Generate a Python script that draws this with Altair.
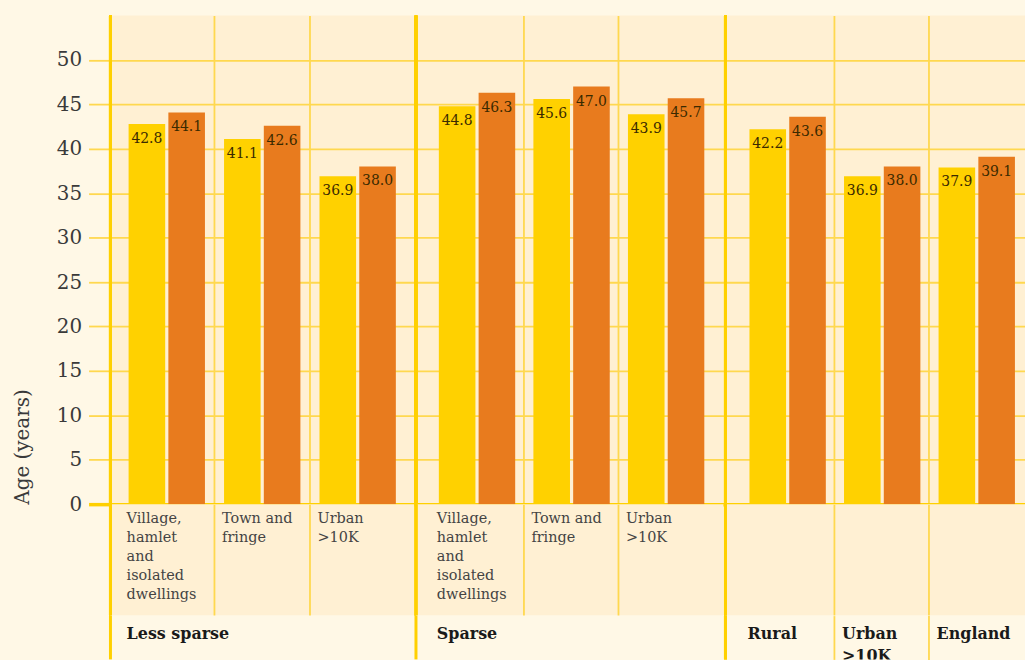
import altair as alt
import pandas as pd

# ---- data -------------------------------------------------------------
series = ["Earlier", "Later"]

less_sparse_cats = ["Village, hamlet and isolated dwellings", "Town and fringe", "Urban >10K"]
less_sparse_earlier = [42.8, 41.1, 36.9]
less_sparse_later = [44.1, 42.6, 38.0]

sparse_cats = ["Village, hamlet and isolated dwellings", "Town and fringe", "Urban >10K"]
sparse_earlier = [44.8, 45.6, 43.9]
sparse_later = [46.3, 47.0, 45.7]

overall_cats = ["Rural", "Urban >10K", "England"]
overall_earlier = [42.2, 36.9, 37.9]
overall_later = [43.6, 38.0, 39.1]

group_names = ["Less sparse", "Sparse"]

# how the labels wrap in the picture
wrapped = {
    "Village, hamlet and isolated dwellings": "Village,\nhamlet\nand\nisolated\ndwellings",
    "Town and fringe": "Town and\nfringe",
    "Urban >10K": "Urban\n>10K",
    "Rural": "Rural",
    "England": "England",
}

y_ticks = list(range(0, 51, 5))

# ---- style ------------------------------------------------------------
BG = "#FFF8E6"
PANEL = "#FFF0D3"
THIN = "#FFD84F"
THICK = "#FFD000"
YELLOW = "#FFD100"
ORANGE = "#E87B1E"
FONT = "DejaVu Serif"
TXT = "#3a3a3a"

H1, H2, H3 = 491, 112, 44


def long_df(cats, earlier, later):
    rows = []
    for c, a, b in zip(cats, earlier, later):
        rows.append({"cat": c, "series": series[0], "value": a})
        rows.append({"cat": c, "series": series[1], "value": b})
    return pd.DataFrame(rows)


def grid_axis():
    return alt.Axis(labels=False, ticks=False, domain=False, title=None, grid=True,
                    bandPosition=-0.125, gridColor=THIN, gridWidth=1.8,
                    gridOpacity={"condition": {"test": "datum.index === 0", "value": 0}, "value": 1})


def column(cats, earlier, later, width, po, align, first, group_label):
    xs = alt.Scale(type="band", domain=cats, paddingInner=0.2, paddingOuter=po, align=align)
    df = long_df(cats, earlier, later)

    if first:
        yaxis = alt.Axis(values=y_ticks, grid=True,
                         gridColor={"condition": {"test": "datum.value === 0", "value": THICK}, "value": THIN},
                         gridWidth={"condition": {"test": "datum.value === 0", "value": 3.5}, "value": 1.8},
                         tickColor={"condition": {"test": "datum.value === 0", "value": THICK}, "value": THIN},
                         tickWidth={"condition": {"test": "datum.value === 0", "value": 3.5}, "value": 1.8},
                         tickSize=22, domain=False, labelFont=FONT, labelFontSize=20,
                         labelColor=TXT, labelPadding=7,
                         title="Age (years)", titleFont=FONT, titleFontSize=20,
                         titleFontWeight="normal", titleColor=TXT, titleAnchor="start",
                         titlePadding=24)
    else:
        yaxis = alt.Axis(values=y_ticks, grid=True,
                         gridColor={"condition": {"test": "datum.value === 0", "value": THICK}, "value": THIN},
                         gridWidth={"condition": {"test": "datum.value === 0", "value": 3.5}, "value": 1.8},
                         labels=False, ticks=False, domain=False, title=None)

    x_enc = alt.X("cat:N", scale=xs, axis=grid_axis(), sort=cats)
    xo = alt.XOffset("series:N", scale=alt.Scale(domain=series, paddingInner=0.08, paddingOuter=0))
    y_enc = alt.Y("value:Q", scale=alt.Scale(domain=[0, 55], nice=False), axis=yaxis)

    base = alt.Chart(df)
    bars = base.mark_bar().encode(
        x=x_enc, xOffset=xo, y=y_enc,
        color=alt.Color("series:N", scale=alt.Scale(domain=series, range=[YELLOW, ORANGE]), legend=None),
    )
    vals = base.mark_text(baseline="top", dy=8, font=FONT, fontSize=14, color="#3a2a00").encode(
        x=x_enc, xOffset=xo, y=y_enc, text=alt.Text("value:Q", format=".1f"),
    )
    edge1 = base.mark_rule(color=THICK, strokeWidth=3).encode(x=alt.value(0))
    row1 = alt.layer(bars, vals, edge1).properties(
        width=width, height=H1, view=alt.ViewBackground(fill=PANEL, stroke=None))

    # sub-category labels
    lab_df = pd.DataFrame({"cat": cats,
                           "label": [wrapped[c] if group_label else "" for c in cats]})
    lab_base = alt.Chart(lab_df)
    sub = lab_base.mark_text(align="left", baseline="top", lineBreak="\n", dx=-2,
                             font=FONT, fontSize=14.5, lineHeight=19, color="#444444").encode(
        x=alt.X("cat:N", scale=xs, axis=grid_axis(), sort=cats, bandPosition=0),
        y=alt.value(8), text="label:N",
    )
    edge2 = lab_base.mark_rule(color=THICK, strokeWidth=3).encode(x=alt.value(0))
    row2 = alt.layer(sub, edge2).properties(
        width=width, height=H2, view=alt.ViewBackground(fill=PANEL, stroke=None))

    # group labels
    if group_label:
        g_df = pd.DataFrame({"cat": [cats[0]], "label": [group_label]})
        g_axis = alt.Axis(labels=False, ticks=False, domain=False, title=None, grid=False)
    else:
        g_df = pd.DataFrame({"cat": cats, "label": [wrapped[c] for c in cats]})
        g_axis = grid_axis()
    g_base = alt.Chart(g_df)
    gl = g_base.mark_text(align="left", baseline="middle", lineBreak="\n", dx=-2, clip=True,
                          font=FONT, fontSize=16, fontWeight="bold", lineHeight=22,
                          color="#1a1a1a").encode(
        x=alt.X("cat:N", scale=xs, axis=g_axis, sort=cats, bandPosition=0),
        y=alt.value(19), text="label:N",
    )
    edge3 = g_base.mark_rule(color=THICK, strokeWidth=3).encode(x=alt.value(0))
    row3 = alt.layer(gl, edge3).properties(
        width=width, height=H3, view=alt.ViewBackground(fill=BG, stroke=None))

    return alt.vconcat(row1, row2, row3, spacing=0, bounds="flush")


col1 = column(less_sparse_cats, less_sparse_earlier, less_sparse_later, 305, 0.19, 0.5, True, group_names[0])
col2 = column(sparse_cats, sparse_earlier, sparse_later, 309, 0.226, 0.535, False, group_names[1])
col3 = column(overall_cats, overall_earlier, overall_later, 301, 0.184, 0.69, False, None)

chart = alt.hconcat(col1, col2, col3, spacing=0).properties(
    background=BG,
    padding={"left": 12, "top": 12, "right": 0, "bottom": 0},
).configure_view(stroke=None).resolve_scale(x="independent", y="independent")

chart.save("out.html", embed_options={"renderer": "svg", "actions": False})
